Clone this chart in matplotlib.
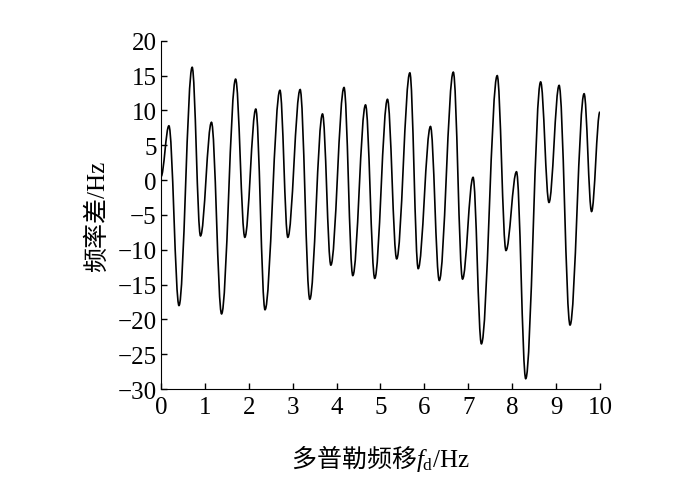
"""
Doppler shift vs frequency difference curve
"""
import matplotlib
matplotlib.use('Agg')
import matplotlib.pyplot as plt
from matplotlib.path import Path
from matplotlib.patches import PathPatch

plt.rcParams['font.family'] = ['Liberation Serif', 'Noto Sans CJK SC']
plt.rcParams['mathtext.fontset'] = 'custom'
plt.rcParams['mathtext.rm'] = 'Liberation Serif'
plt.rcParams['mathtext.it'] = 'Liberation Serif:italic'
plt.rcParams['axes.unicode_minus'] = True

# turning points of the curve (Hz, Hz)
fd = [0.0, 0.18, 0.41, 0.71, 0.90, 1.15, 1.38, 1.70, 1.91, 2.16, 2.37,
      2.71, 2.89, 3.17, 3.39, 3.68, 3.87, 4.17, 4.37, 4.66, 4.87, 5.16,
      5.37, 5.67, 5.86, 6.14, 6.34, 6.66, 6.87, 7.11, 7.30, 7.66, 7.86,
      8.10, 8.31, 8.65, 8.84, 9.07, 9.32, 9.64, 9.81, 10.0]
df = [0.5, 7.8, -18.0, 16.2, -8.0, 8.3, -19.2, 14.5, -8.2, 10.2, -18.6,
      12.9, -8.2, 13.0, -17.1, 9.5, -12.2, 13.3, -13.7, 10.8, -14.1, 11.6,
      -11.3, 15.4, -12.7, 7.7, -14.4, 15.5, -14.2, 0.4, -23.5, 15.0, -10.1,
      1.2, -28.5, 14.1, -3.2, 13.6, -20.8, 12.4, -4.5, 9.8]

x_ticks = list(range(0, 11))
y_ticks = list(range(-30, 25, 5))


def smooth_path(xs, ys, k=0.36):
    # cubic bezier segments with flat tangents at each turning point
    verts = [(xs[0], ys[0])]
    codes = [Path.MOVETO]
    for i in range(1, len(xs)):
        dx = xs[i] - xs[i - 1]
        verts += [(xs[i - 1] + k * dx, ys[i - 1]),
                  (xs[i] - k * dx, ys[i]),
                  (xs[i], ys[i])]
        codes += [Path.CURVE4] * 3
    return Path(verts, codes)


fig = plt.figure(figsize=(7, 4.81), dpi=100)
ax = fig.add_axes([0.230, 0.189, 0.627, 0.724])

ax.add_patch(PathPatch(smooth_path(fd, df), facecolor='none',
                       edgecolor='black', lw=1.2))

ax.set_xlim(0, 10)
ax.set_ylim(-30, 20)
ax.set_xticks(x_ticks)
ax.set_yticks(y_ticks)
ax.spines['top'].set_visible(False)
ax.spines['right'].set_visible(False)
ax.tick_params(direction='in', length=4, width=1, labelsize=18, pad=3)
ax.tick_params(axis='x', pad=5)

# mathtext draws the plain part with the text's own font, so give it the CJK one
ax.set_xlabel(r'多普勒频移$f_\mathrm{d}\mathrm{/Hz}$', fontsize=18,
              labelpad=17, family='Noto Sans CJK SC')
ax.set_ylabel('频率差/Hz', fontsize=18, labelpad=6)

plt.savefig('out.png', dpi=100)
